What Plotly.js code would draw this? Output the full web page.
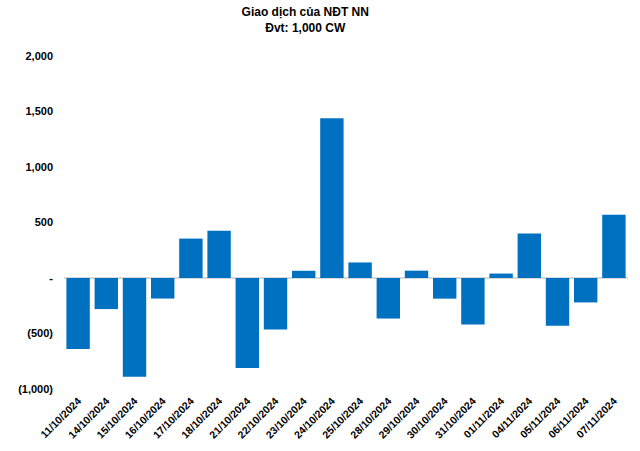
<!DOCTYPE html>
<html>
<head>
<meta charset="utf-8">
<script src="https://cdn.plot.ly/plotly-3.0.1.min.js"></script>
<style>html,body{margin:0;padding:0;background:#fff;}#chart{width:640px;height:451px;}</style>
</head>
<body>
<div id="chart"></div>
<script>
const dates = ["11/10/2024","14/10/2024","15/10/2024","16/10/2024","17/10/2024","18/10/2024","21/10/2024","22/10/2024","23/10/2024","24/10/2024","25/10/2024","28/10/2024","29/10/2024","30/10/2024","31/10/2024","01/11/2024","04/11/2024","05/11/2024","06/11/2024","07/11/2024"];
const netValues = [-640,-280,-890,-185,355,425,-810,-465,65,1440,140,-365,66,-186,-420,40,400,-430,-220,570];
const yTickVals = [2000,1500,1000,500,0,-500,-1000];
const yTickText = ["2,000","1,500","1,000","500","-","(500)","(1,000)"];

const fontBase = {family: "Liberation Sans, Arial, sans-serif", color: "#000", weight: "bold"};

Plotly.newPlot("chart", [{
  type: "bar",
  x: dates,
  y: netValues,
  marker: {color: "#0070C0"},
  hoverinfo: "x+y"
}], {
  width: 640, height: 451,
  margin: {l: 64, r: 12, t: 56, b: 62},
  paper_bgcolor: "#fff", plot_bgcolor: "#fff",
  bargap: 0.17,
  showlegend: false,
  title: {
    text: "Giao dịch của NĐT NN<br>Đvt: 1,000 CW",
    font: Object.assign({}, fontBase, {size: 12}),
    x: 0.477, xanchor: "center", y: 0.964, yanchor: "middle"
  },
  xaxis: {
    type: "category",
    tickangle: -45,
    tickfont: Object.assign({}, fontBase, {size: 10.5}),
    showgrid: false, zeroline: false, showline: false, ticks: "",
    ticklabelstandoff: 3,
    automargin: false
  },
  yaxis: {
    range: [-1000, 2000],
    tickvals: yTickVals,
    ticktext: yTickText,
    tickfont: Object.assign({}, fontBase, {size: 11}),
    showgrid: false,
    zeroline: true, zerolinecolor: "#d9d9d9", zerolinewidth: 1.5,
    showline: false, ticks: "",
    ticklabelstandoff: 10,
    automargin: false
  }
}, {displayModeBar: false, staticPlot: true});
</script>
</body>
</html>
